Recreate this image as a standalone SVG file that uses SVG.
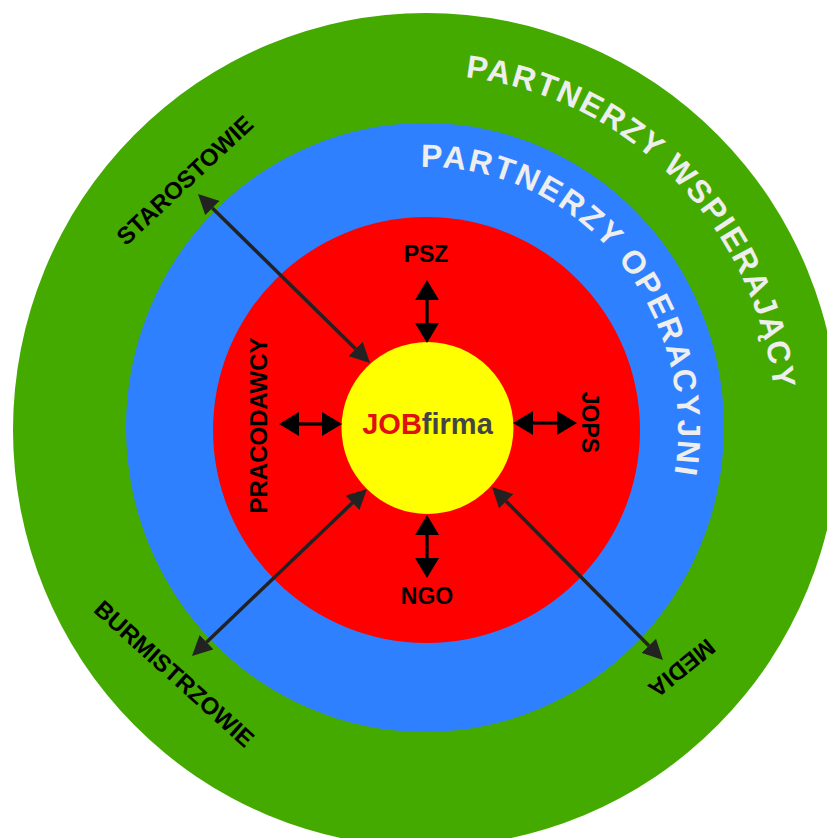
<svg xmlns="http://www.w3.org/2000/svg" width="827" height="838" viewBox="0 0 827 838">
  <style>
    .lbl { font-family: "Liberation Sans", Arial, sans-serif; font-weight: bold; fill: #000; }
    .ring { font-family: "Liberation Sans", Arial, sans-serif; font-weight: bold; fill: #EEEEEE; font-size: 32px; }
    .short { stroke: #000; stroke-width: 3.3; fill: none; }
    .long { stroke: #222; stroke-width: 3.5; fill: none; }
  </style>
  <defs>
    <marker id="headS" viewBox="0 0 20 24" refX="0" refY="12" markerWidth="20" markerHeight="24" markerUnits="userSpaceOnUse" orient="auto-start-reverse">
      <path d="M0,0 L20,12 L0,24 z" fill="#000"/>
    </marker>
    <marker id="headL" viewBox="0 0 20 20" refX="0" refY="10" markerWidth="20" markerHeight="20" markerUnits="userSpaceOnUse" orient="auto-start-reverse">
      <path d="M0,0 L20,10 L0,20 z" fill="#222"/>
    </marker>
    <path id="arcOuter" d="M 76,430 A 350,355 0 1 1 776,430 A 350,355 0 1 1 76,430"/>
    <path id="arcInner" d="M 174,430 A 252,263 0 1 1 678,430 A 252,263 0 1 1 174,430"/>
  </defs>

  <rect width="827" height="838" fill="#fff"/>

  <!-- concentric rings -->
  <g id="ring-wspierajacy">
    <ellipse cx="426" cy="430" rx="413" ry="417" fill="#44AA00"/>
    <text class="ring" letter-spacing="1.8"><textPath href="#arcOuter" startOffset="830" text-anchor="middle">PARTNERZY WSPIERAJĄCY</textPath></text>
  </g>
  <g id="ring-operacyjni">
    <ellipse cx="425" cy="427.5" rx="299" ry="304.5" fill="#2F80FF"/>
    <text class="ring" letter-spacing="2.3"><textPath href="#arcInner" startOffset="627" text-anchor="middle">PARTNERZY OPERACYJNI</textPath></text>
  </g>
  <g id="ring-core">
    <ellipse cx="426.5" cy="430" rx="213.5" ry="213" fill="#FF0000"/>
  </g>
  <g id="jobfirma">
    <circle cx="427.5" cy="428" r="86" fill="#FFFF00"/>
    <text x="427.5" y="434" text-anchor="middle" font-family="'Liberation Sans', Arial, sans-serif" font-weight="bold" font-size="29"><tspan fill="#E01010">JOB</tspan><tspan fill="#444444">firma</tspan></text>
  </g>

  <!-- partner labels -->
  <g id="psz"><text class="lbl" x="426" y="262" font-size="23" text-anchor="middle">PSZ</text></g>
  <g id="ngo"><text class="lbl" x="427" y="604" font-size="23" text-anchor="middle">NGO</text></g>
  <g id="pracodawcy"><text class="lbl" font-size="24" text-anchor="middle" transform="translate(267,425.5) rotate(-90)">PRACODAWCY</text></g>
  <g id="jops"><text class="lbl" font-size="23" text-anchor="middle" transform="translate(582,422.5) rotate(90)">JOPS</text></g>
  <g id="starostowie"><text class="lbl" font-size="24" text-anchor="middle" transform="translate(190.4,186.3) rotate(-43)">STAROSTOWIE</text></g>
  <g id="burmistrzowie"><text class="lbl" font-size="24" text-anchor="middle" transform="translate(168.7,679.9) rotate(42)">BURMISTRZOWIE</text></g>
  <g id="media"><text class="lbl" font-size="24" text-anchor="middle" transform="translate(676.6,661.8) rotate(141)">MEDIA</text></g>

  <!-- connectors -->
  <g id="connectors">
    <line class="short" x1="427" y1="300" x2="427" y2="323" marker-start="url(#headS)" marker-end="url(#headS)"/>
    <line class="short" x1="427" y1="535" x2="427" y2="558" marker-start="url(#headS)" marker-end="url(#headS)"/>
    <line class="short" x1="299" y1="424" x2="322" y2="424" marker-start="url(#headS)" marker-end="url(#headS)"/>
    <line class="short" x1="533" y1="423" x2="557" y2="423" marker-start="url(#headS)" marker-end="url(#headS)"/>
    <line class="long" x1="212.3" y1="208" x2="355.7" y2="349" marker-start="url(#headL)" marker-end="url(#headL)"/>
    <line class="long" x1="206.5" y1="642.2" x2="352.5" y2="502.8" marker-start="url(#headL)" marker-end="url(#headL)"/>
    <line class="long" x1="506.1" y1="501.2" x2="648.9" y2="645.8" marker-start="url(#headL)" marker-end="url(#headL)"/>
  </g>
</svg>
